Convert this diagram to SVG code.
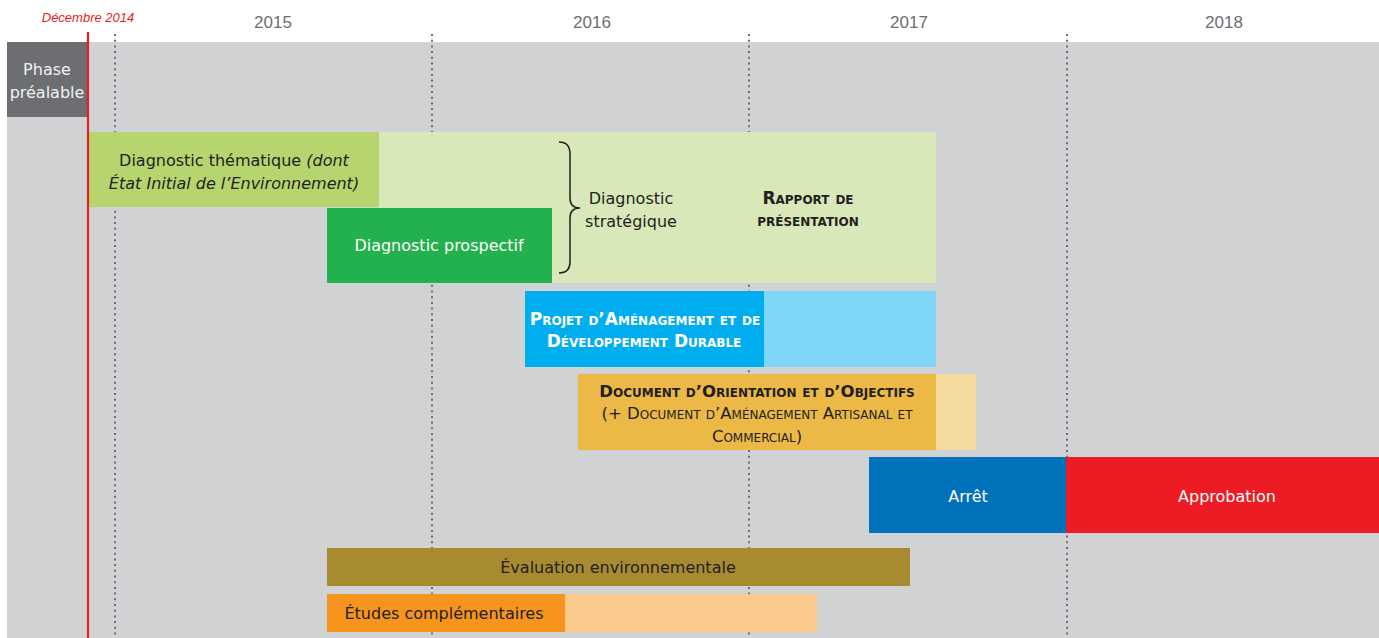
<svg xmlns="http://www.w3.org/2000/svg" width="1379" height="638" viewBox="0 0 1379 638">
<style>
text{font-family:"DejaVu Sans","Liberation Sans",sans-serif;font-size:16px;text-anchor:middle}
.yr{fill:#6d6e71;font-size:17px;font-family:"Liberation Sans",Arial,sans-serif}
.dec{fill:#ed1c24;font-style:italic;font-size:13px;font-family:"Liberation Sans",Arial,sans-serif}
.dk{fill:#231f20}
.wt{fill:#ffffff}
.sc{font-variant:small-caps;font-size:17px}
.sc2{font-variant:small-caps;font-size:16.5px}
.b{font-weight:bold}
.dot{stroke:#6d6e71;stroke-width:2;stroke-dasharray:2 3.7;fill:none}
</style>
<rect x="0" y="0" width="1379" height="638" fill="#ffffff"/>
<rect x="7" y="42" width="1372" height="596" fill="#d1d2d4"/>
<g id="grid">
<line class="dot" x1="115" y1="34" x2="115" y2="638"/>
<line class="dot" x1="432" y1="34" x2="432" y2="638"/>
<line class="dot" x1="749" y1="34" x2="749" y2="638"/>
<line class="dot" x1="1067" y1="34" x2="1067" y2="638"/>
</g>
<g id="years">
<text class="yr" x="273" y="28">2015</text>
<text class="yr" x="592" y="28">2016</text>
<text class="yr" x="909" y="28">2017</text>
<text class="yr" x="1224" y="28">2018</text>
<text class="dec" x="88" y="22">Décembre 2014</text>
</g>
<g id="phase">
<rect x="7" y="42" width="80" height="75" fill="#6d6e71"/>
<text x="47" y="75" fill="#f1f1f2">Phase</text>
<text x="47" y="98" fill="#f1f1f2">préalable</text>
</g>
<g id="rapport">
<rect x="379" y="132" width="557" height="151" fill="#d8e8b8"/>
<text class="dk" x="631" y="204">Diagnostic</text>
<text class="dk" x="631" y="227">stratégique</text>
<text class="dk sc b" x="808" y="204">Rapport de</text>
<text class="dk sc b" x="808" y="226">présentation</text>
</g>
<g id="thematique">
<rect x="89" y="132" width="290" height="75" fill="#b6d56f"/>
<text class="dk" x="234" y="166">Diagnostic thématique <tspan font-style="italic">(dont</tspan></text>
<text class="dk" x="234" y="189" font-style="italic">État Initial de l’Environnement)</text>
</g>
<g id="prospectif">
<rect x="327" y="208" width="225" height="75" fill="#23b14d"/>
<text class="wt" x="439" y="251">Diagnostic prospectif</text>
</g>
<g id="brace">
<path d="M559 142 Q570 142 570 154 L570 198 Q570 208 580 208 Q570 208 570 218 L570 262 Q570 273 559 273" fill="none" stroke="#231f20" stroke-width="1.5"/>
</g>
<g id="padd">
<rect x="764" y="291" width="172" height="76" fill="#7fd6f7"/>
<rect x="525" y="291" width="239" height="76" fill="#00aeef"/>
<text class="wt sc b" x="645" y="325">Projet d’Aménagement et de</text>
<text class="wt sc b" x="644" y="347">Développement Durable</text>
</g>
<g id="doo">
<rect x="936" y="374" width="40" height="76" fill="#f5da9f"/>
<rect x="578" y="374" width="358" height="76" fill="#ecb846"/>
<text class="dk sc2 b" x="757" y="397">Document d’Orientation et d’Objectifs</text>
<text class="dk sc2" x="757" y="419">(+ Document d’Aménagement Artisanal et</text>
<text class="dk sc2" x="757" y="442">Commercial)</text>
</g>
<g id="arret">
<rect x="869" y="457" width="197" height="76" fill="#0071bb"/>
<text class="wt" x="968" y="502">Arrêt</text>
</g>
<g id="approbation">
<rect x="1066" y="457" width="313" height="76" fill="#ed1c24"/>
<text class="wt" x="1227" y="502">Approbation</text>
</g>
<g id="evaluation">
<rect x="327" y="548" width="583" height="38" fill="#a88a31"/>
<text class="dk" x="618" y="573">Évaluation environnementale</text>
</g>
<g id="etudes">
<rect x="565" y="594" width="252" height="38" fill="#fac98c"/>
<rect x="327" y="594" width="238" height="38" fill="#f7941d"/>
<text class="dk" x="444" y="619">Études complémentaires</text>
</g>
<g id="connectors">
<line x1="88" y1="32" x2="88" y2="638" stroke="#ed1c24" stroke-width="2.2"/>
</g>
</svg>
